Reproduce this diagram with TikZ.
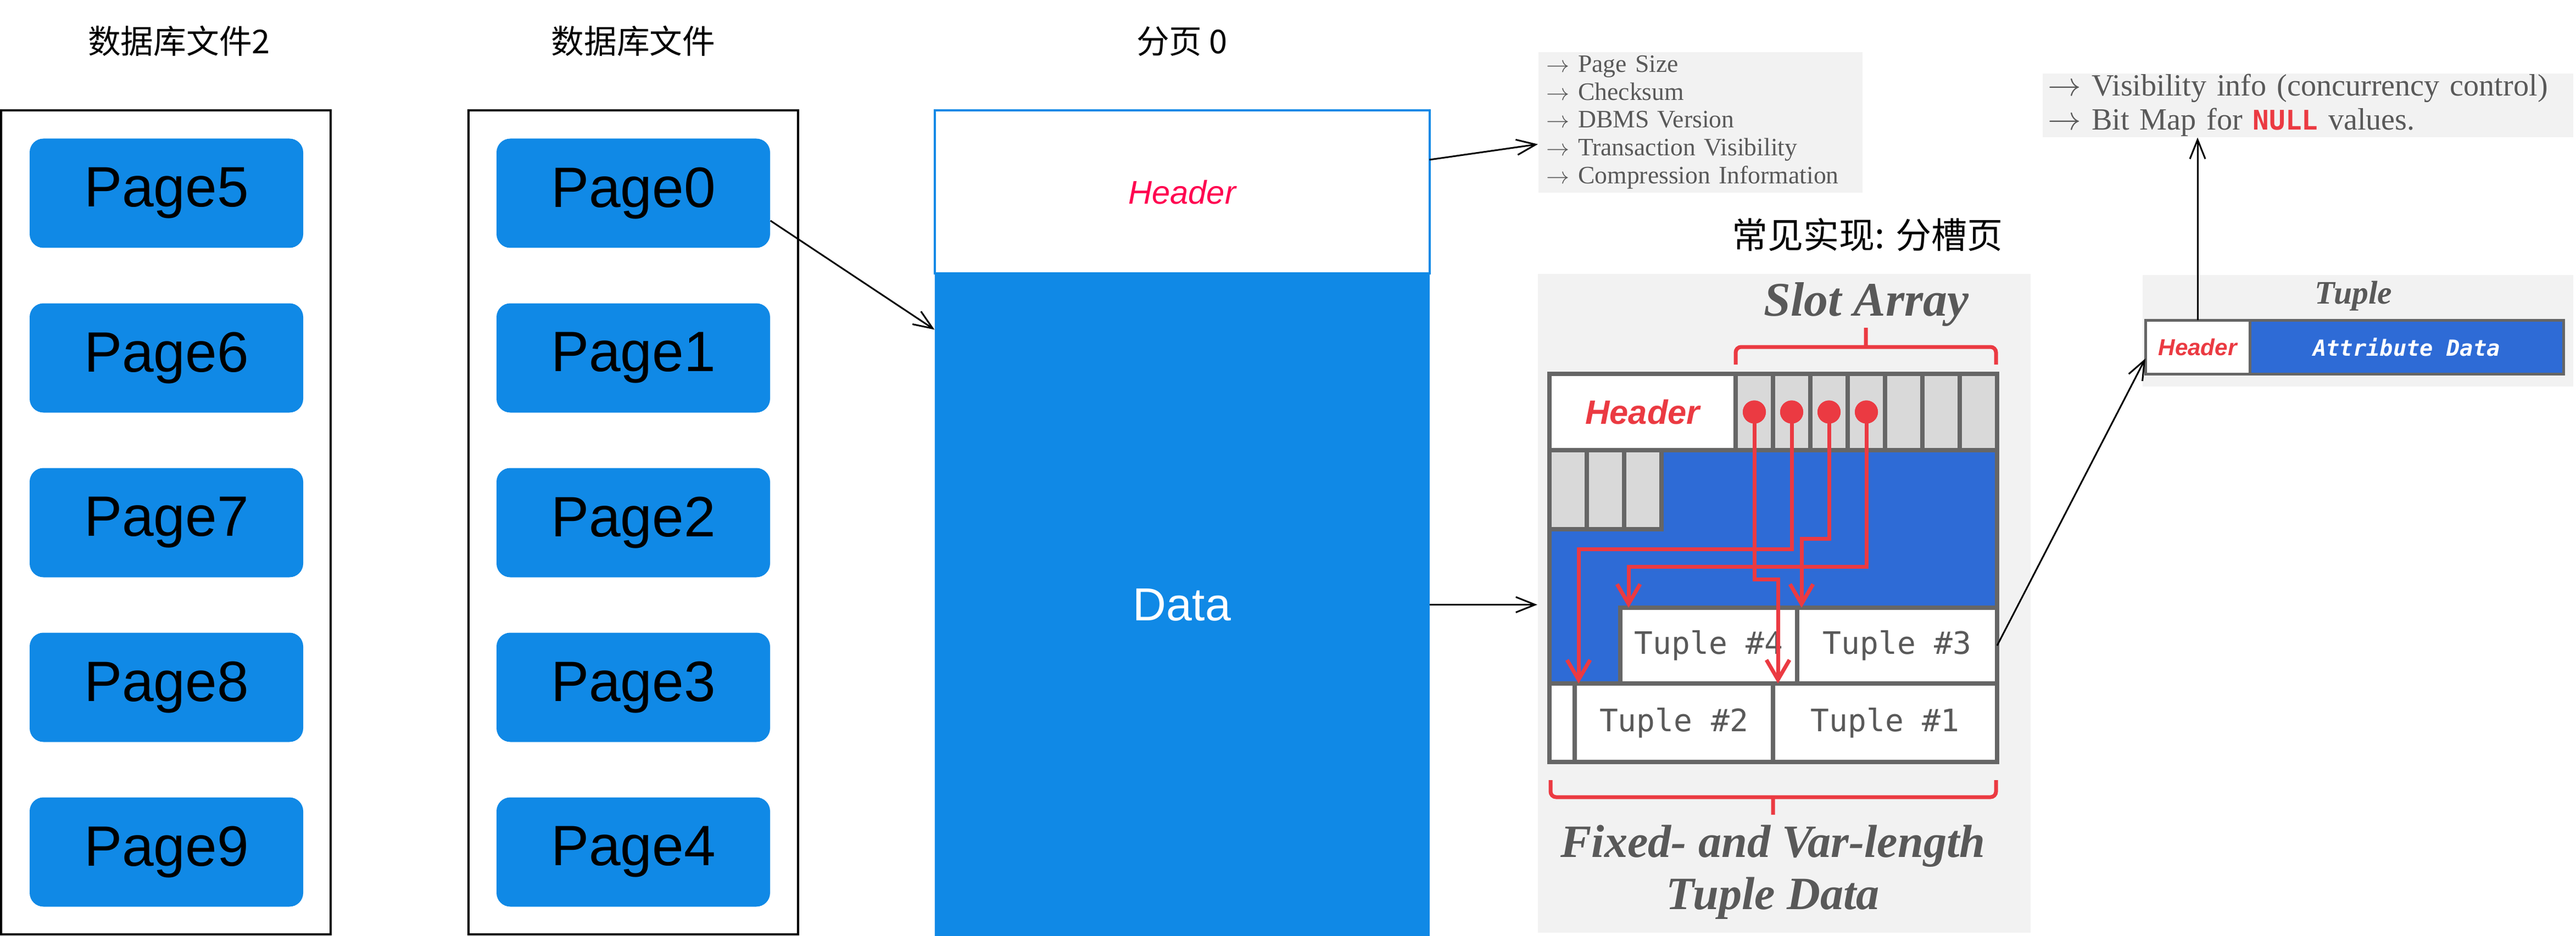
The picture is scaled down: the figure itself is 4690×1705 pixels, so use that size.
\documentclass[tikz,border=0pt]{standalone}
\usepackage{fontspec}
\setmainfont{Liberation Sans}
\newfontfamily\cjk{Noto Sans CJK SC}
\newfontfamily\slideserif{Liberation Serif}
\newfontfamily\slidemono{DejaVu Sans Mono}
\usetikzlibrary{positioning,calc,arrows.meta}
\definecolor{pageblue}{RGB}{16,137,230}
\definecolor{slotblue}{RGB}{46,107,214}
\definecolor{slotred}{RGB}{235,58,66}
\definecolor{hdrred}{RGB}{255,0,80}
\definecolor{panelgray}{RGB}{242,242,242}
\definecolor{cellgray}{RGB}{217,217,217}
\definecolor{edgegray}{RGB}{102,102,102}
\definecolor{inkgray}{RGB}{89,89,89}
\tikzset{>={Straight Barb[length=3.5mm,width=2.8mm]}}
\newcommand{\bul}{\(\rightarrow\)~}

\begin{document}
\begin{tikzpicture}[x=0.1mm,y=-0.1mm,
  filetitle/.style={font=\cjk\fontsize{17}{20}\selectfont},
  filebox/.style={draw,line width=0.4mm,minimum width=60mm,minimum height=150.1mm},
  pagebox/.style={fill=pageblue,rounded corners=2.5mm,minimum width=49.8mm,minimum height=19.9mm,font=\fontsize{29.5}{34}\selectfont},
  conn/.style={->,line width=0.3mm},
  panel/.style={fill=panelgray,inner sep=0pt},
  cell/.style={draw=edgegray,line width=0.75mm,inner sep=0pt,outer sep=0pt,anchor=north west},
  tuple/.style={cell,fill=white,text=inkgray,font=\slidemono\fontsize{16}{19}\selectfont},
  slotdot/.style={circle,fill=slotred,inner sep=0pt,minimum size=4.2mm},
  slotptr/.style={draw=slotred,line width=0.7mm,-{Straight Barb[length=3.6mm,width=4.2mm]}},
  redbrace/.style={draw=slotred,line width=0.7mm,rounded corners=1mm}]
\useasboundingbox (0,0) rectangle (4690,1705);
\node[filetitle] (t2) at (326,75) {数据库文件2};
\node[filetitle] (t1) at (1153,75) {数据库文件};
\node[filetitle] (t0) at (2152,75) {分页 0};
\node[filebox] (file2) at (302,951) {};
\node[filebox] (file1) at (1153,951) {};
\foreach \i/\j in {0/5,1/6,2/7,3/8,4/9}{
  \node[pagebox] (pg\i) at (1153,352+300*\i) {Page\i};
  \node[pagebox] (pg\j) at (303,352+300*\i) {Page\j};
}
\node[draw=pageblue,line width=0.4mm,outer sep=0pt,minimum width=90.1mm,minimum height=29.7mm,text=hdrred,font=\itshape\fontsize{17}{20}\selectfont] (hdr) at (2152,350) {Header};
\node[fill=pageblue,outer sep=0pt,minimum width=90.1mm,minimum height=120.6mm,text=white,font=\fontsize{24}{28}\selectfont,below=0pt of hdr] (data) {Data};
\node[panel,text=inkgray,font=\slideserif\fontsize{13}{14.5}\selectfont,align=left,text width=56mm,inner xsep=1.5mm,minimum height=25.6mm,anchor=north west] (hdrinfo) at (2800,94) {\bul Page Size\\\bul Checksum\\\bul DBMS Version\\\bul Transaction Visibility\\\bul Compression Information};
\node[font=\cjk\fontsize{18.5}{22}\selectfont] (impl) at (3400,428) {常见实现: 分槽页};
\node[panel,minimum width=89.7mm,minimum height=120mm] (slot) at (3248,1099) {};
\node[text=inkgray,font=\slideserif\bfseries\itshape\fontsize{25}{30}\selectfont] (sarr) at (3398,554) {Slot Array};
\draw[redbrace] (3160,664) -- (3160,632) -- (3634,632) -- (3634,664) (3397,632) -- (3397,597);
\fill[slotblue] (2821,820) rectangle (3636,1245);
\node[cell,fill=white,minimum width=33.9mm,minimum height=13.9mm,text=slotred,font=\bfseries\itshape\fontsize{17.5}{20}\selectfont] (shdr) at (2821,681) {Header};
\foreach \k in {0,...,6}
  \node[cell,fill=cellgray,minimum width=6.8mm,minimum height=13.9mm] (sc\k) at (3160+68*\k,681) {};
\foreach \k in {0,1,2}
  \node[cell,fill=cellgray,minimum width=6.8mm,minimum height=14.4mm] (fc\k) at (2821+68*\k,820) {};
\node[tuple,minimum width=32.2mm,minimum height=13.8mm] (tp4) at (2950,1107) {Tuple \#4};
\node[tuple,minimum width=36.4mm,minimum height=13.8mm] (tp3) at (3272,1107) {Tuple \#3};
\node[tuple,minimum width=4.6mm,minimum height=14.3mm] (gap) at (2821,1245) {};
\node[tuple,minimum width=36.1mm,minimum height=14.3mm] (tp2) at (2867,1245) {Tuple \#2};
\node[tuple,minimum width=40.8mm,minimum height=14.3mm] (tp1) at (3228,1245) {Tuple \#1};
\draw[edgegray,line width=0.75mm] (2821,681) rectangle (3636,1388);
\foreach \k in {0,...,3}
  \node[slotdot] (d\k) at (sc\k) {};
\draw[slotptr] (d0.center) -- ++(0,305) -| ($(tp1.north west)+(9,0)$);
\draw[slotptr] (d1.center) -- ++(0,250) -| ($(tp2.north west)+(7,0)$);
\draw[slotptr] (d2.center) -- ++(0,231) -| ($(tp3.north west)+(8,0)$);
\draw[slotptr] (d3.center) -- ++(0,282) -| ($(tp4.north west)+(15,0)$);
\foreach \k in {0,...,3}
  \fill[slotred] (d\k) circle[radius=2.1mm];
\draw[redbrace] (2823,1421) -- (2823,1452) -- (3634,1452) -- (3634,1421) (3228,1452) -- (3228,1484);
\node[text=inkgray,font=\slideserif\bfseries\itshape\fontsize{24}{27}\selectfont,align=center] (fixed) at (3228,1589) {Fixed- and Var-length\\Tuple Data};
\node[panel,text=inkgray,font=\slideserif\fontsize{16}{17.4}\selectfont,align=left,text width=94.6mm,inner xsep=1mm,minimum height=11.6mm,anchor=north west] (vis) at (3718,133) {\bul Visibility info (concurrency control)\\\bul Bit Map for {\slidemono\bfseries\fontsize{14}{17.4}\selectfont\color{slotred}NULL} values.};
\node[panel,minimum width=78.4mm,minimum height=20.3mm,anchor=north west] (tpanel) at (3900,500) {};
\node[text=inkgray,font=\slideserif\bfseries\itshape\fontsize{17}{20}\selectfont] (ttitle) at (4285,539) {Tuple};
\node[cell,line width=0.5mm,fill=white,minimum width=19mm,minimum height=9.8mm,text=slotred,font=\bfseries\itshape\fontsize{12}{14}\selectfont] (thdr) at (3906,583) {Header};
\node[cell,line width=0.5mm,fill=slotblue,minimum width=57.1mm,minimum height=9.8mm,anchor=west,text=white,font=\slidemono\bfseries\itshape\fontsize{11.5}{14}\selectfont,right=0pt of thdr] (tattr) {Attribute Data};
\draw[conn] ($(pg0.east)+(0,50)$) -- ($(data.north west)+(0,102)$);
\draw[conn] ($(hdr.east)+(0,-59)$) -- ($(hdrinfo.west)+(0,40)$);
\draw[conn] (data.east) -- (data.east -| slot.west);
\draw[conn] (tp3.east) -- ($(thdr.west)+(0,21)$);
\draw[conn] (thdr.north) -- (thdr.north |- vis.south);
\end{tikzpicture}
\end{document}
